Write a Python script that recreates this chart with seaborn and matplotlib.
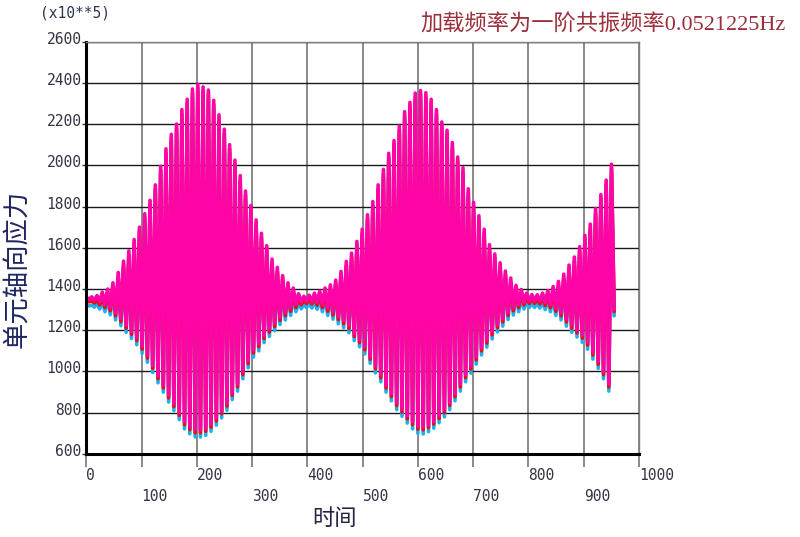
import numpy as np
import pandas as pd
import matplotlib
matplotlib.use("Agg")
import matplotlib.pyplot as plt
import matplotlib.transforms as mtransforms
import seaborn as sns

# spike spacing (time units) between successive peaks, peaks
STEP = 9.6

# magenta series: peak / trough of each oscillation
M_HI = [1360, 1362, 1368, 1385, 1400, 1430, 1480, 1535, 1585, 1640,
        1700, 1765, 1830, 1905, 1995, 2080, 2150, 2200, 2270, 2320,
        2370, 2394, 2380, 2365, 2315, 2245, 2175, 2100, 2025, 1950,
        1875, 1805, 1735, 1670, 1610, 1545, 1505, 1465, 1430, 1405,
        1377, 1365, 1370, 1380, 1390, 1405, 1420, 1443, 1485, 1534,
        1574, 1631, 1690, 1760, 1824, 1905, 1980, 2058, 2120, 2190,
        2260, 2305, 2350, 2362, 2352, 2320, 2270, 2210, 2170, 2110,
        2040, 1988, 1886, 1820, 1755, 1690, 1615, 1570, 1527, 1487,
        1453, 1418, 1398, 1380, 1373, 1372, 1380, 1392, 1412, 1437,
        1472, 1516, 1555, 1605, 1660, 1715, 1790, 1858, 1928, 2005]
M_LO = [1350, 1346, 1338, 1325, 1310, 1285, 1257, 1225, 1195, 1165,
        1123, 1080, 1030, 980, 935, 887, 845, 802, 757, 733,
        718, 717, 725, 745, 775, 810, 847, 899, 940, 1000,
        1053, 1105, 1135, 1175, 1205, 1233, 1263, 1285, 1307, 1325,
        1338, 1342, 1340, 1336, 1325, 1307, 1289, 1267, 1247, 1223,
        1185, 1155, 1120, 1075, 1028, 985, 935, 893, 850, 818,
        785, 757, 735, 732, 743, 760, 787, 815, 850, 893,
        940, 985, 1027, 1071, 1115, 1153, 1193, 1227, 1255, 1287,
        1309, 1325, 1337, 1342, 1343, 1341, 1335, 1325, 1307, 1285,
        1255, 1225, 1202, 1177, 1143, 1095, 1050, 1000, 940, 1300]

# cyan series
C_HI = [1320, 1322, 1328, 1345, 1360, 1390, 1440, 1495, 1545, 1600,
        1660, 1725, 1790, 1865, 1955, 2040, 2110, 2160, 2230, 2280,
        2330, 2354, 2340, 2325, 2275, 2205, 2135, 2060, 1985, 1910,
        1835, 1765, 1695, 1630, 1570, 1505, 1465, 1425, 1390, 1365,
        1337, 1325, 1330, 1340, 1350, 1365, 1380, 1403, 1445, 1494,
        1534, 1591, 1650, 1720, 1784, 1865, 1940, 2018, 2080, 2150,
        2220, 2265, 2310, 2322, 2312, 2280, 2230, 2170, 2130, 2070,
        2000, 1948, 1846, 1780, 1715, 1650, 1575, 1530, 1487, 1447,
        1413, 1378, 1358, 1340, 1333, 1332, 1340, 1352, 1372, 1397,
        1432, 1476, 1515, 1565, 1620, 1675, 1750, 1818, 1888, 1965]
C_LO = [1318, 1312, 1303, 1290, 1275, 1250, 1222, 1190, 1160, 1130,
        1088, 1045, 995, 945, 900, 852, 810, 767, 722, 698,
        683, 682, 690, 710, 740, 775, 812, 864, 905, 965,
        1018, 1070, 1100, 1140, 1170, 1198, 1228, 1250, 1272, 1290,
        1304, 1310, 1308, 1302, 1290, 1272, 1254, 1232, 1212, 1188,
        1150, 1120, 1085, 1040, 993, 950, 900, 858, 815, 783,
        750, 722, 700, 697, 708, 725, 752, 780, 815, 858,
        905, 950, 992, 1036, 1080, 1118, 1158, 1192, 1220, 1252,
        1274, 1290, 1303, 1310, 1311, 1308, 1300, 1290, 1272, 1250,
        1220, 1190, 1167, 1142, 1108, 1060, 1015, 965, 905, 1270]

# red series (mostly hidden, shows at the nodes)
R_HI = [1340, 1342, 1348, 1365, 1380, 1410, 1460, 1515, 1565, 1620,
        1680, 1745, 1810, 1885, 1975, 2060, 2130, 2180, 2250, 2300,
        2350, 2374, 2360, 2345, 2295, 2225, 2155, 2080, 2005, 1930,
        1855, 1785, 1715, 1650, 1590, 1525, 1485, 1445, 1410, 1385,
        1357, 1345, 1350, 1360, 1370, 1385, 1400, 1423, 1465, 1514,
        1554, 1611, 1670, 1740, 1804, 1885, 1960, 2038, 2100, 2170,
        2240, 2285, 2330, 2342, 2332, 2300, 2250, 2190, 2150, 2090,
        2020, 1968, 1866, 1800, 1735, 1670, 1595, 1550, 1507, 1467,
        1433, 1398, 1378, 1360, 1353, 1352, 1360, 1372, 1392, 1417,
        1452, 1496, 1535, 1585, 1640, 1695, 1770, 1838, 1908, 1985]
R_LO = [1338, 1332, 1323, 1310, 1295, 1270, 1242, 1210, 1180, 1150,
        1108, 1065, 1015, 965, 920, 872, 830, 787, 742, 718,
        703, 702, 710, 730, 760, 795, 832, 884, 925, 985,
        1038, 1090, 1120, 1160, 1190, 1218, 1248, 1270, 1292, 1310,
        1324, 1330, 1328, 1322, 1310, 1292, 1274, 1252, 1232, 1208,
        1170, 1140, 1105, 1060, 1013, 970, 920, 878, 835, 803,
        770, 742, 720, 717, 728, 745, 772, 800, 835, 878,
        925, 970, 1012, 1056, 1100, 1138, 1178, 1212, 1240, 1272,
        1294, 1310, 1323, 1330, 1331, 1328, 1320, 1310, 1292, 1270,
        1240, 1210, 1187, 1162, 1128, 1080, 1035, 985, 925, 1290]

X_TICKS = list(range(0, 1001, 100))
Y_TICKS = list(range(600, 2601, 200))
TITLE = "加载频率为一阶共振频率0.0521225Hz"
XLABEL = "时间"
YLABEL = "单元轴向应力"
SCALE_NOTE = "(x10**5)"


def to_frame(hi, lo):
    # peaks at k*STEP, troughs half a step later
    t = np.arange(len(hi)) * STEP
    times = np.column_stack([t, t + STEP / 2]).ravel()
    vals = np.column_stack([hi, lo]).ravel()
    return pd.DataFrame({"time": times, "stress": vals})


sns.set_theme(style="white")
plt.rcParams["font.family"] = ["DejaVu Sans", "Noto Sans CJK SC"]

fig = plt.figure(figsize=(8.0, 5.37), dpi=100)
ax = fig.add_axes([0.108, 0.1546, 0.6906, 0.768])

series = [(C_HI, C_LO, "#1cb2f0"), (R_HI, R_LO, "#e8101a"), (M_HI, M_LO, "#ff05a8")]
for hi, lo, col in series:
    sns.lineplot(data=to_frame(hi, lo), x="time", y="stress", ax=ax, color=col,
                 linewidth=2.6, sort=False, estimator=None)

ax.set_xlim(0, 1000)
ax.set_ylim(600, 2600)

# grid: grey verticals, dark horizontals
for x in X_TICKS[1:]:
    ax.axvline(x, color="#808080", linewidth=1.3, zorder=0)
for y in Y_TICKS[1:]:
    ax.axhline(y, color="#1a1a1a", linewidth=1.0, zorder=0)

for s in ["top", "right"]:
    ax.spines[s].set_color("#808080")
    ax.spines[s].set_linewidth(1.0)
for s in ["left", "bottom"]:
    ax.spines[s].set_color("black")
    ax.spines[s].set_linewidth(2.2)

tick_font = {"family": "DejaVu Sans Mono", "size": 10.5}

# staggered x labels: even hundreds on the first row, odd ones lower
ax.set_xticks(X_TICKS[::2])
ax.set_xticklabels([str(v) for v in X_TICKS[::2]], fontdict=tick_font, color="#333344")
ax.set_xticks(X_TICKS[1::2], minor=True)
ax.set_xticklabels([str(v) for v in X_TICKS[1::2]], minor=True, fontdict=tick_font, color="#333344")
ax.tick_params(axis="x", which="both", direction="out", length=9, width=1.3,
               color="#808080", bottom=True)
ax.tick_params(axis="x", which="major", pad=1)
ax.tick_params(axis="x", which="minor", pad=16)
for lab in ax.get_xticklabels(which="both"):
    lab.set_ha("left")

ax.set_yticks(Y_TICKS)
ax.set_yticklabels([str(v) for v in Y_TICKS], fontdict=tick_font, color="#333344")
ax.tick_params(axis="y", direction="out", length=3, width=1.0, color="#333333", left=True, pad=0.5)
lift = mtransforms.ScaledTranslation(0, 4 / 100, fig.dpi_scale_trans)
for lab in ax.get_yticklabels():
    lab.set_transform(lab.get_transform() + lift)

ax.set_xlabel("")
ax.set_ylabel("")

fig.text(0.05, 0.976, SCALE_NOTE, ha="left", va="center", color="#2a3550",
         fontsize=10.5, family="DejaVu Sans Mono")
fig.text(0.982, 0.953, TITLE, ha="right", va="center", color="#9c2f3c",
         fontsize=16, family=["Liberation Serif", "Noto Sans CJK SC"])
fig.text(0.021, 0.50, YLABEL, rotation=90, ha="center", va="center", color="#1e2560",
         fontsize=19, family=["Noto Sans CJK SC"])
fig.text(0.418, 0.035, XLABEL, ha="center", va="center", color="#222244",
         fontsize=16, family=["Noto Sans CJK SC"])

fig.savefig("out.png", dpi=100)
